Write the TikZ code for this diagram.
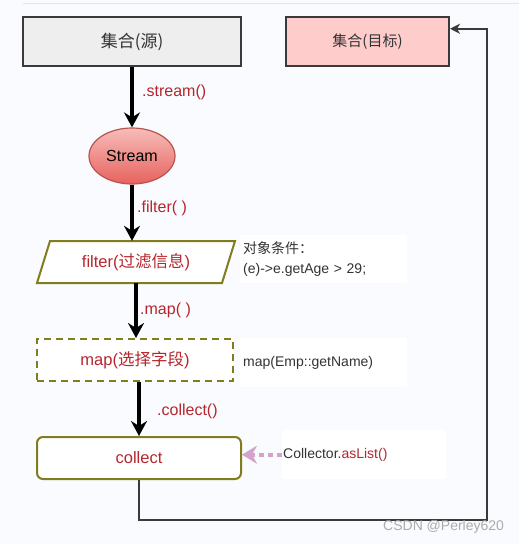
\documentclass[tikz,border=0pt]{standalone}
\usepackage{fontspec}
\setmainfont{Liberation Sans}
\newfontfamily\cjk{Noto Sans CJK SC}
\usetikzlibrary{arrows.meta,shapes.geometric,calc}
\definecolor{bgc}{HTML}{F9FBFE}
\definecolor{srcfill}{HTML}{EEEEEE}
\definecolor{bord}{HTML}{3A3A3A}
\definecolor{tgtfill}{HTML}{FFCCCC}
\definecolor{redtxt}{HTML}{B5272D}
\definecolor{olive}{HTML}{7F7D1E}
\definecolor{pinkc}{HTML}{D4A3CC}
\definecolor{graytxt}{HTML}{333333}
\definecolor{streamtop}{HTML}{F6BDBA}
\definecolor{streambot}{HTML}{E8625D}
\definecolor{streambd}{HTML}{B85450}
\tikzset{
  boxsrc/.style={draw=bord, line width=2pt, fill=srcfill, minimum width=218pt, minimum height=49pt, font=\fontsize{17}{20}\selectfont\cjk, text=graytxt},
  boxtgt/.style={draw=bord, line width=2pt, fill=tgtfill, minimum width=163pt, minimum height=49pt, font=\fontsize{15}{18}\selectfont\cjk, text=graytxt},
  redbox/.style={font=\fontsize{16.5}{20}\selectfont, text=redtxt, inner sep=0pt},
  lab/.style={font=\fontsize{16}{19}\selectfont, text=redtxt, anchor=west, inner sep=0pt},
  annot/.style={fill=white, font=\fontsize{14}{20}\selectfont, text=graytxt, align=left, anchor=north west, inner sep=3pt},
  flowarrow/.style={line width=3.6pt, -{Stealth[length=15pt,width=16pt,inset=5pt]}},
  backarrow/.style={draw=bord, line width=1.8pt, -{Stealth[length=10pt,width=10pt,inset=3pt]}},
  dotarrow/.style={draw=pinkc, line width=4pt, dash pattern=on 5pt off 4pt, -{Stealth[length=15pt,width=18pt,inset=5pt]}},
}
\begin{document}
\begin{tikzpicture}[x=1pt,y=-1pt]
\useasboundingbox (0,0) rectangle (519,544);
\fill[bgc] (0,0) rectangle (519,544);
\draw[gray!20, line width=0.8pt] (23,3) -- (519,3);

\node[boxsrc] (src) at (132,41.5) {集合(源)};
\node[boxtgt] (tgt) at (367.5,41.5) {集合(目标)};

\node[ellipse, draw=streambd, line width=1.2pt, top color=streamtop, bottom color=streambot,
      minimum width=86pt, minimum height=56pt, inner sep=0pt,
      font=\fontsize{16}{19}\selectfont, text=black] (stream) at (132,156) {Stream};

% filter parallelogram
\draw[olive, line width=2pt, fill=white] (50,241) -- (235,241) -- (222,283) -- (37,283) -- cycle;
\node[redbox, minimum width=185pt, minimum height=42pt] (filter) at (136,262) {filter({\cjk 过滤信息})};

\node[redbox, draw=olive, line width=2pt, dash pattern=on 7pt off 5pt, fill=white,
      minimum width=196pt, minimum height=42pt] (map) at (135,360) {map({\cjk 选择字段})};

\node[redbox, draw=olive, line width=2pt, rounded corners=6pt, fill=white,
      minimum width=204pt, minimum height=42pt] (collect) at (139,458) {collect};

\node[annot, text width=161pt, minimum height=48pt] (ann1) at (240,235) {{\cjk 对象条件：}\\(e)->e.getAge > 29;};
\node[annot, text width=161pt, minimum height=49pt] (ann2) at (240,338) {map(Emp::getName)};
\node[annot, text width=162pt, minimum height=49pt, inner xsep=1pt] (ann3) at (282,430) {Collector.\textcolor{redtxt}{asList()}};

% flow arrows
\draw[flowarrow] (src) -- (stream);
\draw[flowarrow] (stream.south) -- (stream.south |- filter.north);
\draw[flowarrow] (filter.south) -- (filter.south |- map.north);
\draw[flowarrow] (collect.north |- map.south) -- (collect.north);

\node[lab] (l1) at (142,92) {.stream()};
\node[lab] (l2) at (137,208) {.filter( )};
\node[lab] (l3) at (140,310) {.map( )};
\node[lab] (l4) at (157,411) {.collect()};

% dotted arrow
\draw[dotarrow] (ann3.west) -- (ann3.west -| collect.east);

% return line
\coordinate (c1) at (487,520);
\coordinate (tgtin) at ($(tgt.north east)!0.25!(tgt.south east)$);
\draw[backarrow] (collect.south) |- (c1) |- (tgtin);

\node[font=\fontsize{14}{16}\selectfont, text=gray!65, anchor=west, inner sep=0pt] (wm) at (383,527) {CSDN @Perley620};
\end{tikzpicture}
\end{document}
